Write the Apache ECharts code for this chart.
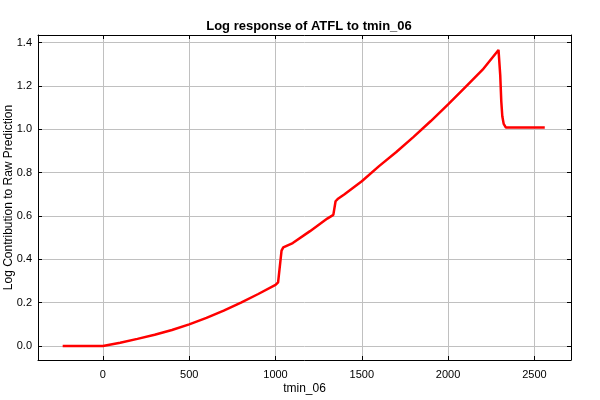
<!DOCTYPE html>
<html>
<head>
<meta charset="utf-8">
<script src="https://cdn.jsdelivr.net/npm/echarts@6/dist/echarts.min.js"></script>
<style>html,body{margin:0;padding:0;background:#fff}#c{width:600px;height:400px}</style>
</head>
<body>
<div id="c"></div>
<script>
var titleText = "Log response of ATFL to tmin_06";
var xName = "tmin_06";
var yName = "Log Contribution to Raw Prediction";
var xValues = [-233, -100, 0, 100, 200, 300, 400, 500, 600, 700, 800, 900, 1000, 1015, 1035, 1045, 1100, 1200, 1300, 1335, 1348, 1360, 1400, 1500, 1600, 1700, 1800, 1900, 2000, 2100, 2200, 2292, 2302, 2308, 2314, 2322, 2335, 2400, 2500, 2560];
var yValues = [0, 0, 0, 0.015, 0.033, 0.052, 0.074, 0.100, 0.130, 0.163, 0.200, 0.240, 0.282, 0.294, 0.440, 0.455, 0.475, 0.530, 0.588, 0.605, 0.668, 0.678, 0.700, 0.760, 0.830, 0.895, 0.965, 1.038, 1.115, 1.195, 1.275, 1.366, 1.250, 1.130, 1.060, 1.025, 1.008, 1.008, 1.008, 1.008];

var pts = xValues.map(function (x, i) { return [x, yValues[i]]; });
var chart = echarts.init(document.getElementById('c'), null, {renderer: 'canvas'});
var font = 'Liberation Sans, Arial, sans-serif';
var xr = {min: -376, max: 2712};
var yr = {min: -0.0645, max: 1.435};
function xAxisDef(pos, main) {
  return {
    type: 'value', position: pos, min: xr.min, max: xr.max, minInterval: 500, maxInterval: 500,
    name: main ? xName : '', nameLocation: 'middle', nameGap: 23, nameMoveOverlap: false,
    nameTextStyle: {color: '#000', fontSize: 12, fontFamily: font, verticalAlign: 'top'},
    axisLine: {show: true, onZero: false, lineStyle: {color: '#000', width: 1}},
    axisTick: {show: true, inside: true, length: 4, lineStyle: {color: '#000'}},
    axisLabel: {show: main, color: '#000', fontSize: 11, fontFamily: font, margin: 9, showMinLabel: false, showMaxLabel: false,
      formatter: function (v) { return String(Math.round(v)); }},
    splitLine: {show: main, lineStyle: {color: '#c0c0c0', width: 1}}
  };
}
function yAxisDef(pos, main) {
  return {
    type: 'value', position: pos, min: yr.min, max: yr.max, minInterval: 0.2, maxInterval: 0.2,
    name: main ? yName : '', nameLocation: 'middle', nameGap: 23, nameMoveOverlap: false,
    nameTextStyle: {color: '#000', fontSize: 12, fontFamily: font},
    axisLine: {show: true, onZero: false, lineStyle: {color: '#000', width: 1}},
    axisTick: {show: true, inside: true, length: 4, lineStyle: {color: '#000'}},
    axisLabel: {show: main, color: '#000', fontSize: 11, fontFamily: font, margin: 6, showMinLabel: false, showMaxLabel: false,
      formatter: function (v) { return v.toFixed(1); }},
    splitLine: {show: main, lineStyle: {color: '#c0c0c0', width: 1}}
  };
}
chart.setOption({
  backgroundColor: '#fff',
  animation: false,
  title: {text: titleText, left: 304, textAlign: 'center', top: 15,
    textStyle: {fontSize: 13, fontWeight: 'bold', color: '#000', fontFamily: font}},
  grid: {left: 38, right: 29, top: 35, bottom: 40, containLabel: false, outerBoundsMode: 'none'},
  xAxis: [xAxisDef('bottom', true), xAxisDef('top', false)],
  yAxis: [yAxisDef('left', true), yAxisDef('right', false)],
  series: [{
    type: 'line', data: pts, xAxisIndex: 0, yAxisIndex: 0,
    showSymbol: false, symbol: 'none',
    lineStyle: {color: '#ff0000', width: 2.5},
    itemStyle: {color: '#ff0000'}
  }]
});
</script>
</body>
</html>
